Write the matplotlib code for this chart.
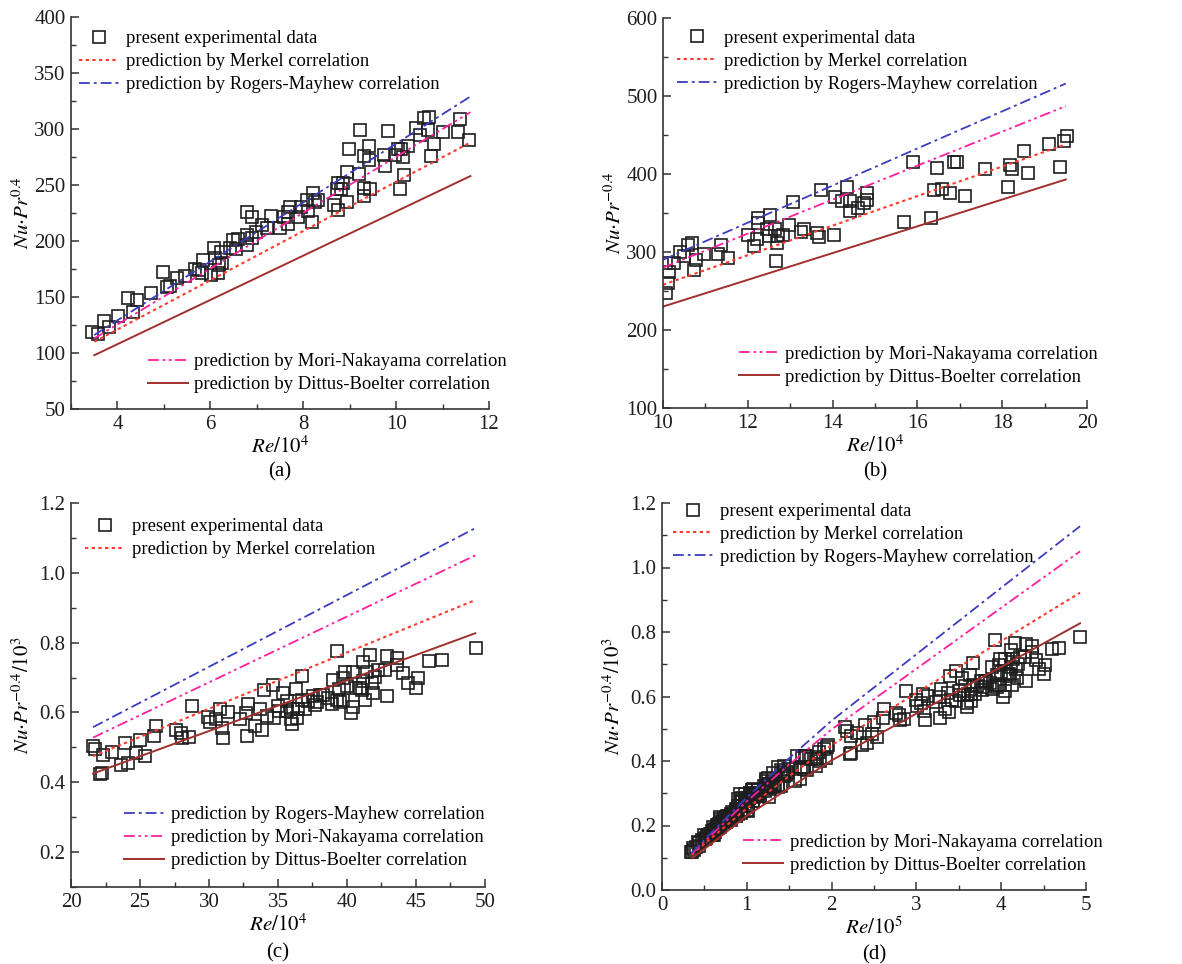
import matplotlib
matplotlib.use("Agg")
import matplotlib.pyplot as plt
import numpy as np
from matplotlib.ticker import MultipleLocator, FormatStrFormatter

plt.rcParams['font.family'] = ['Liberation Serif', 'DejaVu Serif']
plt.rcParams['mathtext.fontset'] = 'stix'

# ---------------------------------------------------------------
# (a) experimental data, Re/10^4 and Nu*Pr^0.4
re_a = [3.45, 3.58, 3.71, 3.81, 4.02, 4.22, 4.34, 4.42, 4.72, 4.99, 5.06, 5.13,
        5.28, 5.46, 5.66, 5.76, 5.85, 5.83, 6.01, 6.07, 6.17, 6.09, 6.19, 6.26,
        6.24, 6.43, 6.49, 6.55, 6.59, 6.78, 6.80, 6.89, 6.80, 6.89, 6.99, 7.12,
        7.21, 7.30, 7.51, 7.59, 7.67, 7.72, 7.68, 7.89, 7.95, 8.11, 8.18, 8.09,
        8.20, 8.26, 8.31, 8.67, 8.75, 8.72, 8.74, 8.81, 8.85, 8.95, 8.95, 8.98,
        9.21, 9.22, 9.30, 9.31, 9.31, 9.42, 9.42, 9.44, 9.73, 9.76, 9.83, 9.98,
        10.03, 10.10, 10.09, 10.14, 10.16, 10.26, 10.43, 10.51, 10.59, 10.70,
        10.68, 10.75, 10.82, 11.00, 11.33, 11.37, 11.56]
nu_a = [119, 117, 129, 123, 133, 149, 137, 147, 154, 172, 159, 160,
        167, 169, 175, 174, 183, 171, 170, 194, 171, 185, 179, 180,
        190, 194, 201, 193, 202, 205, 226, 221, 196, 203, 208, 214,
        212, 222, 212, 221, 226, 230, 215, 221, 230, 227, 217, 237,
        243, 235, 237, 232, 228, 246, 252, 246, 252, 235, 262, 282,
        260, 299, 276, 247, 240, 285, 272, 246, 277, 267, 298, 277,
        282, 282, 246, 275, 259, 285, 301, 295, 310, 311,
        299, 276, 287, 297, 297, 309, 290]

# (b) experimental data, Re/10^4 and Nu*Pr^-0.4
re_b = [10.08, 10.12, 10.13, 10.08, 10.25, 10.41, 10.50, 10.58, 10.68, 10.72,
        10.79, 10.97, 11.30, 11.37, 11.53, 12.00, 12.14, 12.22, 12.24, 12.24,
        12.45, 12.49, 12.53, 12.63, 12.66, 12.69, 12.71, 12.83, 12.98, 13.07,
        13.26, 13.32, 13.63, 13.69, 13.73, 14.04, 14.06, 14.22, 14.34, 14.40,
        14.40, 14.61, 14.80, 14.81, 14.75, 15.68, 15.90, 16.32, 16.40, 16.46,
        16.58, 16.76, 16.86, 16.93, 17.13, 17.60, 18.13, 18.18, 18.23, 18.51,
        18.60, 19.10, 19.37, 19.45, 19.53]
nu_b = [247, 260, 275, 286, 286, 300, 295, 309, 312, 277,
        290, 297, 298, 309, 292, 322, 308, 317, 344, 337,
        329, 320, 347, 329, 288, 312, 320, 322, 334, 364,
        326, 329, 325, 319, 380, 322, 371, 365, 383, 365,
        353, 356, 376, 367, 363, 338, 416, 344, 380, 408,
        381, 376, 416, 416, 372, 406, 383, 412, 406, 429,
        401, 438, 409, 442, 449]

# (c) experimental data, Re/10^4 and Nu*Pr^-0.4/10^3
re_c = [21.6, 21.76, 22.12, 22.24, 22.32, 22.97, 23.62, 23.93, 24.13, 24.73,
        25.02, 25.38, 26.03, 26.18, 27.62, 27.96, 28.03, 28.52, 28.76, 29.96,
        30.08, 30.52, 30.81, 30.93, 31.00, 31.41, 32.26, 32.74, 32.86, 32.69,
        33.34, 33.70, 33.87, 33.99, 34.19, 34.67, 34.72, 35.03, 35.10, 35.34,
        35.63, 35.92, 35.99, 36.12, 36.31, 36.40, 36.72, 36.72, 36.96, 37.20,
        37.56, 37.68, 38.05, 38.24, 38.65, 38.89, 38.96, 39.25, 39.30, 39.45,
        39.49, 39.69, 39.86, 39.98, 40.46, 40.41, 40.65, 40.94, 41.06, 41.13,
        41.18, 41.42, 41.66, 41.78, 41.91, 42.03, 42.27, 42.75, 42.87, 42.87,
        43.59, 43.64, 44.08, 44.44, 44.99, 45.16, 45.96, 46.85, 49.34,
        35.68, 36.47, 37.80, 39.74, 41.30, 40.27]
nu_c = [0.504, 0.494, 0.423, 0.426, 0.479, 0.487, 0.449, 0.513, 0.456, 0.483,
        0.521, 0.475, 0.532, 0.561, 0.550, 0.542, 0.528, 0.530, 0.618, 0.588,
        0.572, 0.580, 0.609, 0.556, 0.528, 0.602, 0.582, 0.532, 0.623, 0.599,
        0.561, 0.610, 0.551, 0.664, 0.590, 0.680, 0.585, 0.618, 0.604, 0.656,
        0.604, 0.580, 0.566, 0.609, 0.666, 0.585, 0.637, 0.704, 0.609, 0.633,
        0.647, 0.620, 0.649, 0.649, 0.642, 0.623, 0.692, 0.637, 0.775, 0.666,
        0.630, 0.699, 0.715, 0.675, 0.616, 0.715, 0.670, 0.670, 0.664, 0.744,
        0.690, 0.715, 0.766, 0.685, 0.656, 0.702, 0.721, 0.723, 0.763, 0.647,
        0.756, 0.737, 0.713, 0.685, 0.670, 0.699, 0.747, 0.751, 0.785,
        0.632, 0.609, 0.630, 0.637, 0.637, 0.599]

# correlation lines
# (a)
re_line_a = [3.5, 11.6]
merkel_a = [110, 288]
rogers_a = [116, 329]
mori_a = [113, 315]
dittus_a = [98, 258]
# (b)
re_line_b = [10.0, 19.5]
merkel_b = [258, 438]
rogers_b = [290, 516]
mori_b = [280, 487]
dittus_b = [230, 393]
# (c)
re_line_c = [21.6, 49.3]
merkel_c = [0.475, 0.922]
rogers_c = [0.558, 1.128]
mori_c = [0.528, 1.050]
dittus_c = [0.425, 0.827]
# (d)
re_line_d = [0.35, 0.6, 1.0, 1.5, 2.0, 3.0, 4.0, 4.93]
merkel_d = [0.110, 0.165, 0.253, 0.353, 0.449, 0.611, 0.772, 0.922]
rogers_d = [0.116, 0.182, 0.287, 0.409, 0.525, 0.731, 0.937, 1.128]
mori_d = [0.113, 0.175, 0.275, 0.389, 0.498, 0.686, 0.875, 1.050]
dittus_d = [0.098, 0.147, 0.230, 0.316, 0.402, 0.547, 0.692, 0.827]

# (d) = all data of (a)-(c) in Re/10^5 and Nu*Pr^-0.4/10^3
re_d = np.concatenate([np.array(re_a) / 10, np.array(re_b) / 10, np.array(re_c) / 10])
nu_d = np.concatenate([np.array(nu_a) / 1000, np.array(nu_b) / 1000, np.array(nu_c)])

# ---------------------------------------------------------------
lab_data = 'present experimental data'
lab_mer = 'prediction by Merkel correlation'
lab_rog = 'prediction by Rogers-Mayhew correlation'
lab_mor = 'prediction by Mori-Nakayama correlation'
lab_dit = 'prediction by Dittus-Boelter correlation'

sty_mer = dict(color='#ff3a2e', ls=(0, (1.6, 1.6)), lw=1.5)
sty_rog = dict(color='#3c3cc0', ls=(0, (6, 2.2, 1.6, 2.2)), lw=1.3)
sty_mor = dict(color='#ff1f9e', ls=(0, (6, 2, 1.5, 2, 1.5, 2)), lw=1.3)
sty_dit = dict(color='#a0302c', ls='-', lw=1.4)

fig = plt.figure(figsize=(11.82, 9.64), dpi=100)
W, H = 1182, 964


def add_ax(left, top, right, bottom):
    return fig.add_axes([left / W, 1 - bottom / H, (right - left) / W, (bottom - top) / H])


def draw(ax, re, nu, rl, mer, rog, mor, dit):
    h_data, = ax.plot(re, nu, ls='none', marker='s', ms=9, mfc='none',
                      mec='#1e1e1e', mew=1.2, label=lab_data)
    h_dit, = ax.plot(rl, dit, label=lab_dit, **sty_dit)
    h_mer, = ax.plot(rl, mer, label=lab_mer, **sty_mer)
    h_mor, = ax.plot(rl, mor, label=lab_mor, **sty_mor)
    h_rog, = ax.plot(rl, rog, label=lab_rog, **sty_rog)
    return h_data, h_mer, h_rog, h_mor, h_dit


def style(ax, xlim, ylim, xmaj, xmin, ymaj, ymin, xlabel, ylabel, tag, tagy,
          yfmt=None, ypad=4):
    ax.set_xlim(*xlim)
    ax.set_ylim(*ylim)
    ax.spines['top'].set_visible(False)
    ax.spines['right'].set_visible(False)
    for s in ['left', 'bottom']:
        ax.spines[s].set_linewidth(1.2)
        ax.spines[s].set_color('#333333')
    ax.xaxis.set_major_locator(MultipleLocator(xmaj))
    ax.xaxis.set_minor_locator(MultipleLocator(xmin))
    ax.yaxis.set_major_locator(MultipleLocator(ymaj))
    ax.yaxis.set_minor_locator(MultipleLocator(ymin))
    if yfmt:
        ax.yaxis.set_major_formatter(FormatStrFormatter(yfmt))
    ax.tick_params(which='both', direction='in', top=False, right=False, colors='#333333')
    ax.tick_params(which='major', length=6, width=1.1, labelsize=15, labelcolor='#1e1e1e', pad=4)
    ax.tick_params(which='minor', length=3.5, width=1.0)
    ax.set_xlabel(xlabel, fontsize=15, labelpad=2)
    ax.set_ylabel(ylabel, fontsize=15, labelpad=ypad)
    ax.text(0.5, tagy, tag, transform=ax.transAxes, ha='center', va='center', fontsize=15)


def legends(ax, top_handles, bot_handles, top_xy, bot_xy):
    kw = dict(loc='upper left', frameon=False, fontsize=13.4, handlelength=2.15,
              handletextpad=0.35, labelspacing=0.32, borderpad=0, borderaxespad=0)
    l1 = ax.legend(handles=top_handles, bbox_to_anchor=top_xy, **kw)
    ax.add_artist(l1)
    ax.legend(handles=bot_handles, bbox_to_anchor=bot_xy, **kw)


# (a)
ax = add_ax(71, 17, 489, 409)
hd, hm, hr, hn, hb = draw(ax, re_a, nu_a, re_line_a, merkel_a, rogers_a, mori_a, dittus_a)
style(ax, (3.0, 12.0), (50, 400), 2, 1, 50, 25,
      r'$Re/10^4$', r'$Nu{\cdot}Pr^{0.4}$', '(a)', -0.161, ypad=0)
legends(ax, [hd, hm, hr], [hn, hb], (0.02, 0.966), (0.184, 0.142))

# (b)
ax = add_ax(663, 18, 1087, 408)
hd, hm, hr, hn, hb = draw(ax, re_b, nu_b, re_line_b, merkel_b, rogers_b, mori_b, dittus_b)
style(ax, (10, 20), (100, 600), 2, 1, 100, 50,
      r'$Re/10^4$', r'$Nu{\cdot}Pr^{-0.4}$', '(b)', -0.164, ypad=0)
legends(ax, [hd, hm, hr], [hn, hb], (0.033, 0.97), (0.179, 0.16))

# (c)
ax = add_ax(71, 503, 485, 887)
hd, hm, hr, hn, hb = draw(ax, re_c, nu_c, re_line_c, merkel_c, rogers_c, mori_c, dittus_c)
style(ax, (20, 50), (0.1, 1.2), 5, 2.5, 0.2, 0.1,
      r'$Re/10^4$', r'$Nu{\cdot}Pr^{-0.4}/10^3$', '(c)', -0.172, '%.1f')
legends(ax, [hd, hm], [hr, hn, hb], (0.034, 0.96), (0.128, 0.21))

# (d)
ax = add_ax(662, 503, 1086, 890)
hd, hm, hr, hn, hb = draw(ax, re_d, nu_d, re_line_d, merkel_d, rogers_d, mori_d, dittus_d)
style(ax, (0, 5), (0.0, 1.2), 1, 0.5, 0.2, 0.1,
      r'$Re/10^5$', r'$Nu{\cdot}Pr^{-0.4}/10^3$', '(d)', -0.168, '%.1f')
legends(ax, [hd, hm, hr], [hn, hb], (0.026, 1.0), (0.191, 0.145))

fig.savefig('out.png', dpi=100)
